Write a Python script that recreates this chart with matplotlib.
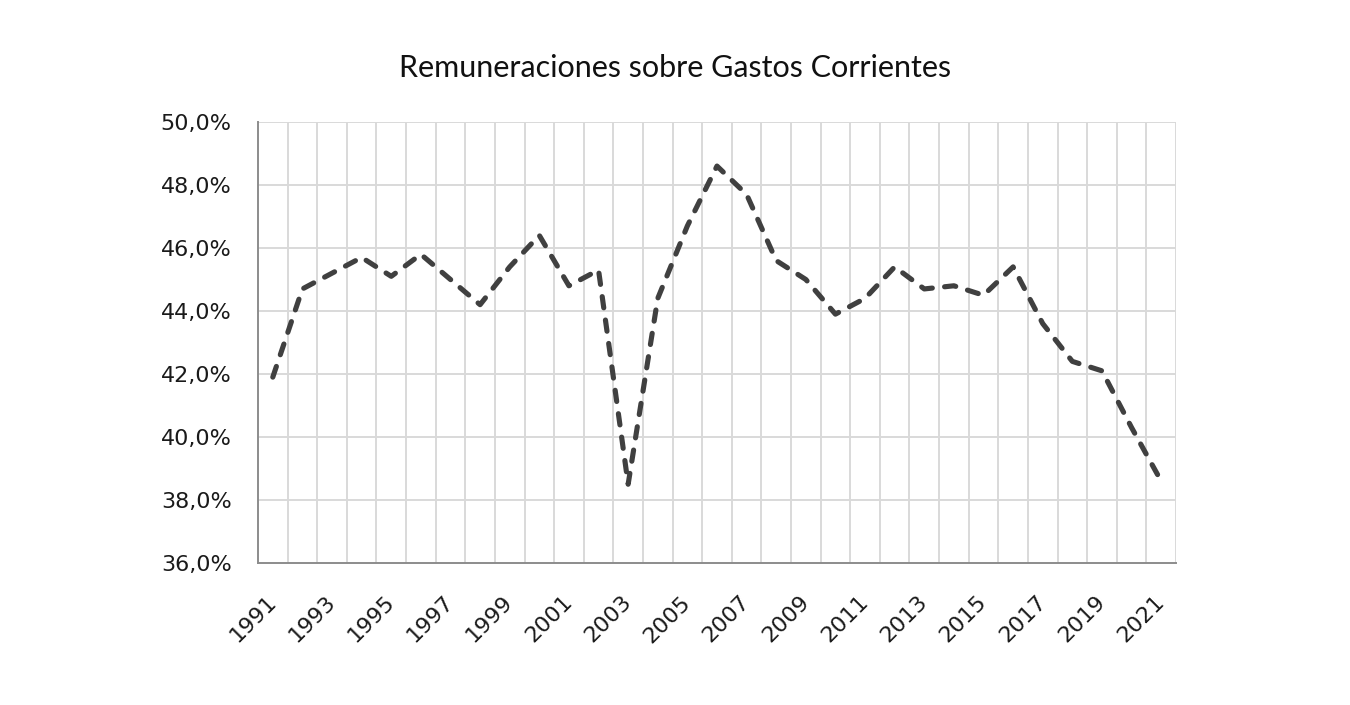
import matplotlib
matplotlib.use("Agg")
import matplotlib.pyplot as plt
import numpy as np

# -----------------------
# Data
# -----------------------
years = list(range(1991, 2022))
share = [41.9, 44.7, 45.2, 45.7, 45.1, 45.8, 45.0, 44.2, 45.4, 46.4,
         44.8, 45.3, 38.5, 44.4, 46.7, 48.6, 47.7, 45.6, 45.0, 43.9,
         44.4, 45.4, 44.7, 44.8, 44.5, 45.4, 43.6, 42.4, 42.1, 40.3,
         38.6]
y_ticks = [36, 38, 40, 42, 44, 46, 48, 50]
title = "Remuneraciones sobre Gastos Corrientes"


def main():
    fig = plt.figure(figsize=(13.5, 7.05), dpi=100)
    ax = fig.add_axes([0.1911, 0.2014, 0.6800, 0.6256])

    x = np.arange(len(years))

    # grid at category boundaries (Excel style)
    for b in np.arange(0.5, len(years), 1.0):
        ax.axvline(b, color="#d9d9d9", lw=1.4, zorder=1)
    for t in y_ticks[1:]:
        ax.axhline(t, color="#d9d9d9", lw=1.4, zorder=1)

    ax.plot(x, share, color="#404040", lw=3.7, linestyle=(0, (2.2, 2.4)),
            dash_capstyle="round", solid_capstyle="round", zorder=3)

    ax.set_xlim(-0.5, len(years) - 0.5)
    ax.set_ylim(36, 50)

    ax.set_yticks(y_ticks)
    ax.set_yticklabels([f"{t:.1f}%".replace(".", ",") for t in y_ticks])
    ax.set_xticks(x[::2])
    ax.set_xticklabels([str(y) for y in years[::2]], rotation=45,
                       ha="right", va="center", rotation_mode="anchor")

    ax.tick_params(axis="y", length=0, pad=19, labelsize=16, labelcolor="#1a1a1a")
    ax.tick_params(axis="x", length=0, pad=26, labelsize=16, labelcolor="#1a1a1a")

    for side in ["top", "right"]:
        ax.spines[side].set_visible(False)
    for side in ["left", "bottom"]:
        ax.spines[side].set_color("#8c8c8c")
        ax.spines[side].set_linewidth(1.4)

    fig.text(0.5, 0.9035, title, ha="center", va="center",
             fontsize=22, family="Lato", color="#111111")

    fig.savefig("out.png", dpi=100)


if __name__ == "__main__":
    main()
